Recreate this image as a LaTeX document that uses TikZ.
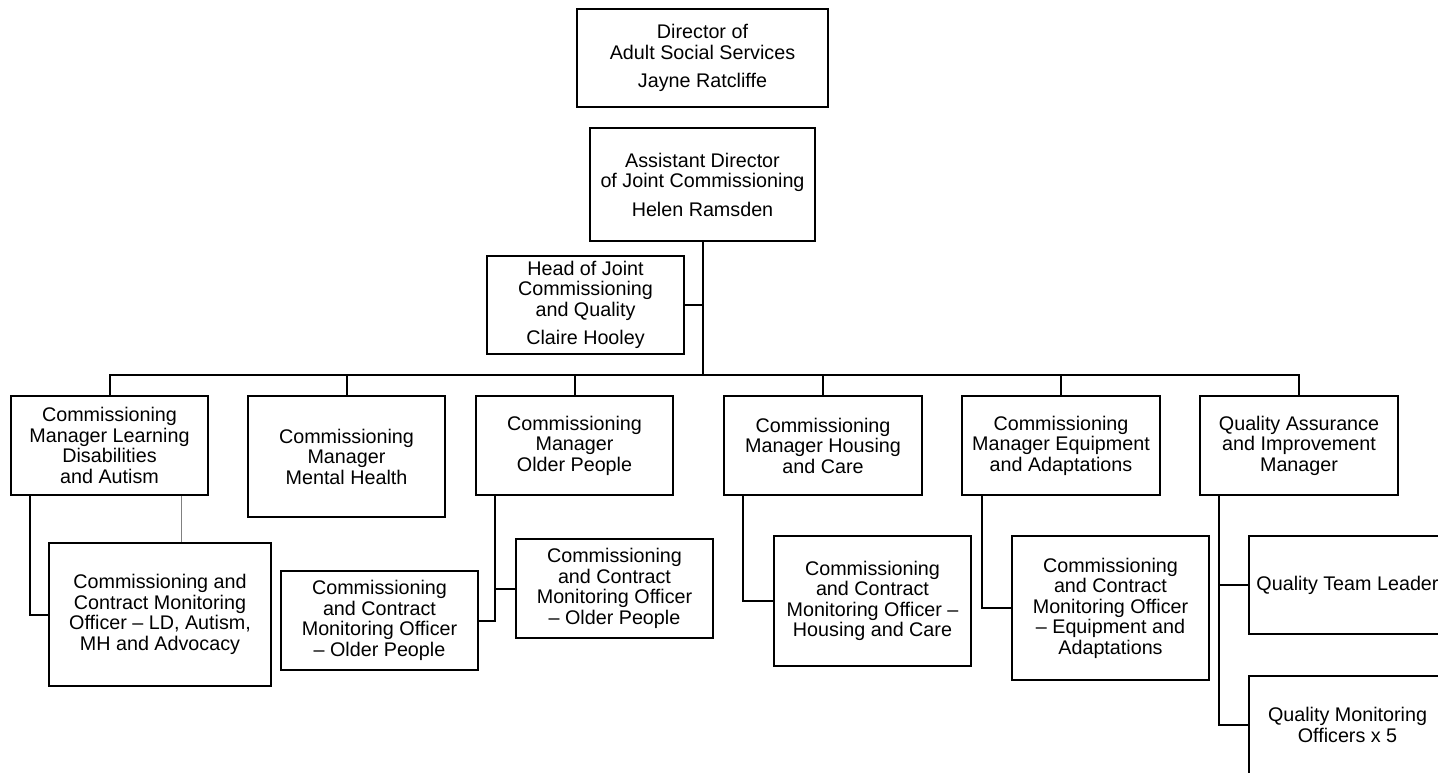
\documentclass[tikz,border=0pt]{standalone}
\usepackage{fontspec}
\setmainfont{Liberation Sans}
\begin{document}
\begin{tikzpicture}[x=0.75pt, y=-0.75pt,
                box/.style 2 args = {draw, line width=1.4pt, align=center, inner sep=2pt,
                    minimum width=#1*0.75pt, minimum height=#2*0.75pt,
                    font=\fontsize{14.8}{15.4}\selectfont},
                link/.style = {line width=1.5pt}
                ]
                \useasboundingbox (0,0) rectangle (1438,773);
                \clip (0,0) rectangle (1438,773);
                \node[box={251}{98}] (dir) at (702.5,58) {Director of\\Adult Social Services\\[6pt]Jayne Ratcliffe};
                \node[box={225}{113}] (asst) at (702.5,184.5) {Assistant Director\\of Joint Commissioning\\[6pt]Helen Ramsden};
                \node[box={197}{98}] (hoj) at (585.5,305) {Head of Joint\\Commissioning\\and Quality\\[6pt]Claire Hooley};
                \node[box={197}{99}] (ld) at (109.5,445.5) {Commissioning\\Manager Learning\\Disabilities\\and Autism};
                \node[box={197}{121}] (mh) at (346.5,456.5) {Commissioning\\Manager\\Mental Health};
                \node[box={197}{99}] (op) at (574.5,445.5) {Commissioning\\Manager\\Older People};
                \node[box={198}{99}] (hc) at (823,445.5) {Commissioning\\Manager Housing\\and Care};
                \node[box={198}{99}] (ea) at (1061,445.5) {Commissioning\\Manager Equipment\\and Adaptations};
                \node[box={198}{99}] (qa) at (1299,445.5) {Quality Assurance\\and Improvement\\Manager};
                \node[box={222}{143}] (ldo) at (160,614.5) {Commissioning and\\Contract Monitoring\\Officer -- LD, Autism,\\MH and Advocacy};
                \node[box={197}{99}] (opa) at (379.5,620.5) {Commissioning\\and Contract\\Monitoring Officer\\-- Older People};
                \node[box={197}{99}] (opb) at (614.5,588.5) {Commissioning\\and Contract\\Monitoring Officer\\-- Older People};
                \node[box={197}{130}] (hco) at (872.5,601) {Commissioning\\and Contract\\Monitoring Officer --\\Housing and Care};
                \node[box={197}{144}] (eao) at (1110.5,608) {Commissioning\\and Contract\\Monitoring Officer\\-- Equipment and\\Adaptations};
                \node[box={197}{98}] (qtl) at (1347.5,585) {Quality Team Leader};
                \node[box={197}{98}] (qmo) at (1347.5,725) {Quality Monitoring\\Officers x 5};
                \coordinate (bus) at (702.5,375);
                \draw[link] (asst.south) -- (bus);
                \draw[link] (hoj.east) -- (hoj.east -| bus);
                \foreach \n in {ld,mh,op,hc,ea,qa}
                    \draw[link] (bus) -| (\n.north);
                \draw[link] ([xshift=15pt]ld.south west) |- (ldo.west);
                \draw[gray, line width=0.8pt] ([xshift=54pt]ld.south) -- ([xshift=54pt]ld.south |- ldo.north);
                \coordinate (opx) at ([xshift=15pt]op.south west);
                \draw[link] (opx) |- (opa.east);
                \draw[link] (opx |- opb.west) -- (opb.west);
                \draw[link] ([xshift=15pt]hc.south west) |- (hco.west);
                \draw[link] ([xshift=15.5pt]ea.south west) |- (eao.west);
                \coordinate (qax) at ([xshift=15pt]qa.south west);
                \draw[link] (qax) |- (qmo.west);
                \draw[link] (qax |- qtl.west) -- (qtl.west);
            \end{tikzpicture}
\end{document}
